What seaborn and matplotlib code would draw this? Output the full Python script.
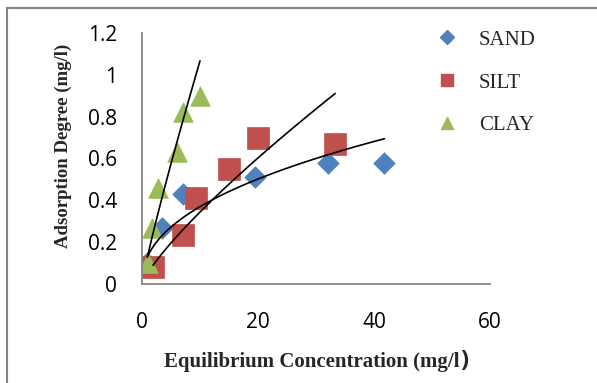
"""
Isothermes d'adsorption : SAND / SILT / CLAY avec courbes de tendance (loi puissance)
"""

import numpy as np
import pandas as pd
import matplotlib
import matplotlib.pyplot as plt
import matplotlib.patches as mpatches
from matplotlib.lines import Line2D
import seaborn as sns

matplotlib.use("Agg")

# ============================================================
# DONNÉES
# ============================================================

sand_x = [0.9, 3.4, 7.1, 19.5, 32.1, 41.8]
sand_y = [0.10, 0.27, 0.43, 0.51, 0.58, 0.58]

silt_x = [1.9, 7.1, 9.3, 15.0, 20.0, 33.3]
silt_y = [0.08, 0.235, 0.41, 0.55, 0.70, 0.67]

clay_x = [1.0, 1.7, 2.8, 6.0, 7.0, 10.0]
clay_y = [0.10, 0.27, 0.46, 0.63, 0.82, 0.90]

series_names = ["SAND", "SILT", "CLAY"]
x_ticks = [0, 20, 40, 60]
y_ticks = [0, 0.2, 0.4, 0.6, 0.8, 1, 1.2]

# ============================================================
# STYLE
# ============================================================

COULEURS = {"SAND": "#4F81BD", "SILT": "#C0504D", "CLAY": "#9BBB59"}
MARQUEURS = {"SAND": "D", "SILT": "s", "CLAY": "^"}
TAILLES = {"SAND": 120, "SILT": 250, "CLAY": 200}
GRIS = "#868686"

sns.set_style("white")
plt.rcParams["font.family"] = ["Open Sans", "DejaVu Sans"]

df = pd.concat([
    pd.DataFrame({"x": sand_x, "y": sand_y, "sol": "SAND"}),
    pd.DataFrame({"x": silt_x, "y": silt_y, "sol": "SILT"}),
    pd.DataFrame({"x": clay_x, "y": clay_y, "sol": "CLAY"}),
], ignore_index=True)

fig = plt.figure(figsize=(5.97, 3.83), dpi=100)
ax = fig.add_axes([142 / 597, 1 - 284 / 383, 348 / 597, 251 / 383])

# Points
for nom in series_names:
    sub = df[df["sol"] == nom]
    sns.scatterplot(data=sub, x="x", y="y", ax=ax, color=COULEURS[nom],
                    marker=MARQUEURS[nom], s=TAILLES[nom],
                    edgecolor=COULEURS[nom], linewidth=0.5, zorder=2,
                    legend=False)

# Courbes de tendance puissance (ajustement log-log, comme Excel)
for nom in series_names:
    sub = df[df["sol"] == nom]
    b, ln_a = np.polyfit(np.log(sub["x"]), np.log(sub["y"]), 1)
    xs = np.linspace(sub["x"].min(), sub["x"].max(), 200)
    sns.lineplot(x=xs, y=np.exp(ln_a) * xs ** b, ax=ax, color="black",
                 linewidth=1.2, zorder=3)

ax.set_xlim(0, 60)
ax.set_ylim(0, 1.2)
ax.set_xticks(x_ticks)
ax.set_yticks(y_ticks)
ax.set_yticklabels([f"{v:g}" for v in y_ticks])
ax.tick_params(length=0, labelsize=15, pad=18, colors="black")
ax.tick_params(axis="x", pad=20)
ax.set_xlabel("")
ax.set_ylabel("")
for cote in ["top", "right"]:
    ax.spines[cote].set_visible(False)
for cote in ["left", "bottom"]:
    ax.spines[cote].set_color(GRIS)
    ax.spines[cote].set_linewidth(1.3)

# Titres des axes (Times gras)
fig.text(63 / 597, 1 - 146 / 383, "Adsorption Degree (mg/l)",
         rotation=90, ha="center", va="center", fontsize=13.5,
         fontweight="bold", family="Liberation Serif")
fig.text(459 / 597, 1 - 362 / 383, "Equilibrium Concentration (mg/l",
         ha="right", va="center", fontsize=15, fontweight="bold",
         family="Liberation Serif")
fig.text(460 / 597, 1 - 361 / 383, ")", ha="left", va="center",
         fontsize=17, fontweight="bold")

# Légende
poignees = [Line2D([], [], linestyle="none", marker=MARQUEURS[n],
                   markersize={"SAND": 7, "SILT": 9, "CLAY": 9}[n],
                   color=COULEURS[n]) for n in series_names]
fig.legend(poignees, series_names, loc="upper left",
           bbox_to_anchor=(437 / 597, 1 - 30 / 383), frameon=False,
           borderpad=0, borderaxespad=0, handlelength=1.0,
           handletextpad=1.0, labelspacing=1.12,
           prop={"family": "Liberation Serif", "size": 15})

# Cadre du graphique (seuls les bords gauche et haut sont visibles)
fig.add_artist(mpatches.Rectangle((7 / 597, -0.2), 1.2, 1.2 - 9 / 383 + 0.002,
                                  transform=fig.transFigure, fill=False,
                                  edgecolor=GRIS, linewidth=1.5))

fig.savefig("out.png", dpi=100, facecolor="white")
